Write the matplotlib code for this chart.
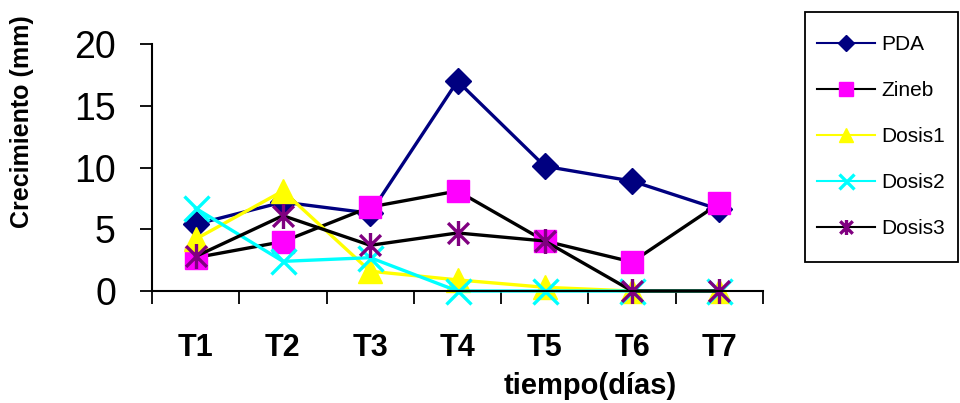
import matplotlib
matplotlib.use("Agg")
import matplotlib.pyplot as plt
from matplotlib.path import Path
from matplotlib.patches import Rectangle
import numpy as np

plt.rcParams['font.family'] = ['Liberation Sans', 'DejaVu Sans']

categories = ["T1", "T2", "T3", "T4", "T5", "T6", "T7"]
pda = [5.4, 7.2, 6.3, 17.0, 10.1, 8.9, 6.6]
zineb = [2.7, 4.0, 6.8, 8.1, 4.05, 2.35, 7.1]
dosis1 = [4.2, 8.1, 1.6, 0.9, 0.3, 0.0, 0.0]
dosis2 = [6.7, 2.4, 2.7, 0.0, 0.0, 0.0, 0.0]
dosis3 = [2.8, 6.1, 3.7, 4.7, 4.05, 0.0, 0.0]
yticks = [0, 5, 10, 15, 20]

asterisk = Path([(-1, -1), (1, 1), (-1, 1), (1, -1), (0, -1.2), (0, 1.2)],
                [Path.MOVETO, Path.LINETO, Path.MOVETO, Path.LINETO, Path.MOVETO, Path.LINETO])

fig = plt.figure(figsize=(9.6, 4.03), dpi=100)
ax = fig.add_axes([152/960, 1-291/403, (763-152)/960, (291-44)/403])

x = np.arange(len(categories))
lw = 2.4
ax.plot(x, pda, color='#000080', lw=lw, marker='D', ms=13, mec='#000080', mfc='#000080', label='PDA', clip_on=False)
ax.plot(x, zineb, color='black', lw=lw, marker='s', ms=16, mec='#FF00FF', mfc='#FF00FF', label='Zineb', clip_on=False)
ax.plot(x, dosis1, color='#FFFF00', lw=lw, marker='^', ms=17, mec='#FFFF00', mfc='#FFFF00', label='Dosis1', clip_on=False)
ax.plot(x, dosis2, color='#00FFFF', lw=lw, marker='x', ms=18, mew=2.4, mec='#00FFFF', label='Dosis2', clip_on=False)
ax.plot(x, dosis3, color='black', lw=lw, marker=asterisk, ms=18, mew=2.4, mec='#800080', mfc='none', label='Dosis3', clip_on=False)

ax.set_xlim(-0.5, len(categories) - 0.5)
ax.set_ylim(0, 20)
ax.set_yticks(yticks)
ax.set_yticklabels([str(v) for v in yticks], fontsize=27)
ax.set_xticks(x)
ax.set_xticklabels(categories, fontsize=22, fontweight='bold')
ax.set_xticks(np.arange(-0.5, len(categories), 1.0), minor=True)
ax.tick_params(axis='x', which='major', length=0, pad=30)
ax.tick_params(axis='x', which='minor', length=9, width=1.3, direction='out')
ax.tick_params(axis='y', length=9, width=1.3, direction='out', pad=17)
for s in ['top', 'right']:
    ax.spines[s].set_visible(False)
for s in ['left', 'bottom']:
    ax.spines[s].set_linewidth(1.5)
    ax.spines[s].set_color('black')

fig.text(22/960, 1-122/403, 'Crecimiento (mm)', rotation=90, fontsize=18, fontweight='bold',
         ha='center', va='center')
fig.text(590/960, 1-386/403, 'tiempo(días)', fontsize=21, fontweight='bold', ha='center', va='center')

leg = ax.legend(loc='upper left', bbox_to_anchor=(817/960, 1-35/403), bbox_transform=fig.transFigure,
                fontsize=15, frameon=False, markerscale=0.6,
                handlelength=2.8, handletextpad=0.3, labelspacing=1.3, borderpad=0, borderaxespad=0)
for line in leg.get_lines():
    line.set_linewidth(1.5)

fig.add_artist(Rectangle((805/960, 1-262/403), 153/960, 250/403, transform=fig.transFigure,
                         fill=False, edgecolor='black', linewidth=1.3))

fig.savefig('out.png', dpi=100)
